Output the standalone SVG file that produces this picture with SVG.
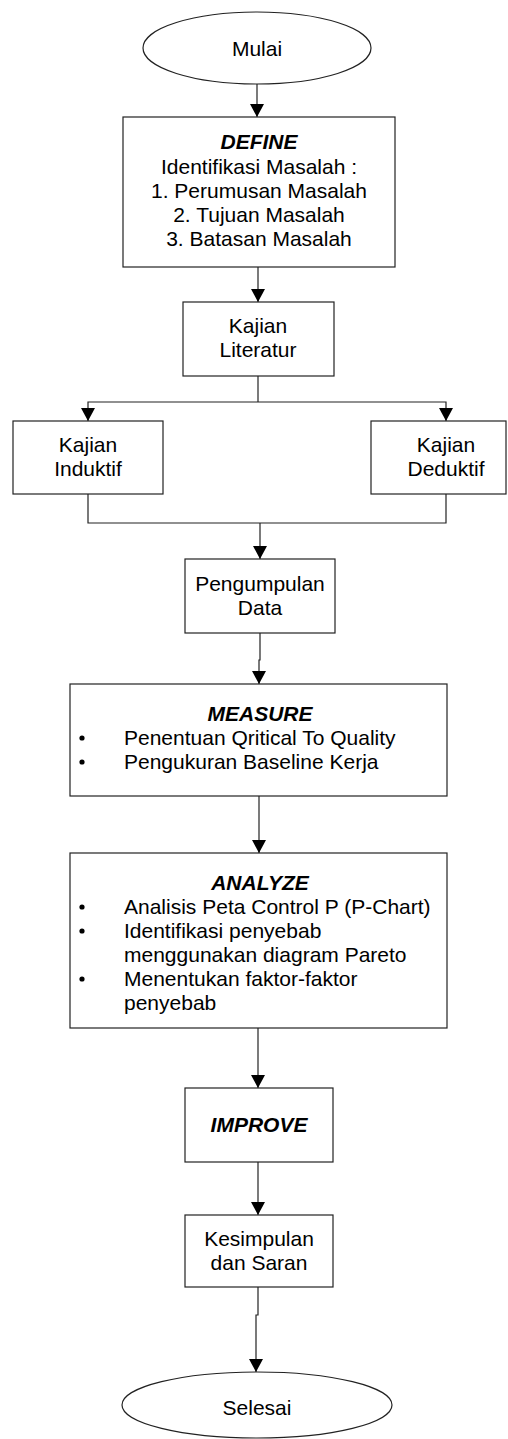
<svg xmlns="http://www.w3.org/2000/svg" width="508" height="1439" viewBox="0 0 508 1439">
  <defs>
    <marker id="arrow" markerWidth="14" markerHeight="14" refX="13" refY="7" orient="auto" markerUnits="userSpaceOnUse">
      <path d="M0,0 L13,7 L0,14 Z" fill="#000"/>
    </marker>
    <style>
      .box { fill: #fff; stroke: #222; stroke-width: 1.2; }
      .conn { fill: none; stroke: #222; stroke-width: 1.2; }
      .t { font-family: "Liberation Sans", Arial, sans-serif; font-size: 21px; fill: #000; }
      .c { text-anchor: middle; }
      .h { font-weight: bold; font-style: italic; }
      .dot { fill: #000; }
    </style>
  </defs>
  <rect width="508" height="1439" fill="#fff"/>

  <!-- connectors -->
  <g id="connectors">
    <path class="conn" d="M257,84 V117" marker-end="url(#arrow)"/>
    <path class="conn" d="M258,267 V302" marker-end="url(#arrow)"/>
    <path class="conn" d="M258,376 V402"/>
    <path class="conn" d="M258,402 H88 V421" marker-end="url(#arrow)"/>
    <path class="conn" d="M258,402 H446 V421" marker-end="url(#arrow)"/>
    <path class="conn" d="M88,494 V523 H446 V494"/>
    <path class="conn" d="M260,523 V559" marker-end="url(#arrow)"/>
    <path class="conn" d="M260,633 V660 H259 V684" marker-end="url(#arrow)"/>
    <path class="conn" d="M259,796 V853" marker-end="url(#arrow)"/>
    <path class="conn" d="M258,1028 V1088" marker-end="url(#arrow)"/>
    <path class="conn" d="M258,1162 V1215" marker-end="url(#arrow)"/>
    <path class="conn" d="M258,1287 V1315 H256 V1372" marker-end="url(#arrow)"/>
  </g>

  <g id="mulai">
    <ellipse class="box" cx="257" cy="48" rx="114" ry="36"/>
    <text class="t c" x="257" y="56">Mulai</text>
  </g>

  <g id="define">
    <rect class="box" x="123" y="117" width="272" height="150"/>
    <text class="t c h" x="259" y="149">DEFINE</text>
    <text class="t c" x="259" y="174">Identifikasi Masalah :</text>
    <text class="t c" x="259" y="198">1. Perumusan Masalah</text>
    <text class="t c" x="259" y="222">2. Tujuan Masalah</text>
    <text class="t c" x="259" y="246">3. Batasan Masalah</text>
  </g>

  <g id="kajian-literatur">
    <rect class="box" x="183" y="302" width="151" height="74"/>
    <text class="t c" x="258" y="333">Kajian</text>
    <text class="t c" x="258" y="357">Literatur</text>
  </g>

  <g id="kajian-induktif">
    <rect class="box" x="13" y="421" width="150" height="73"/>
    <text class="t c" x="88" y="452">Kajian</text>
    <text class="t c" x="88" y="476">Induktif</text>
  </g>

  <g id="kajian-deduktif">
    <rect class="box" x="371" y="421" width="135" height="73"/>
    <text class="t c" x="446" y="452">Kajian</text>
    <text class="t c" x="446" y="476">Deduktif</text>
  </g>

  <g id="pengumpulan-data">
    <rect class="box" x="185" y="559" width="150" height="74"/>
    <text class="t c" x="260" y="591">Pengumpulan</text>
    <text class="t c" x="260" y="615">Data</text>
  </g>

  <g id="measure">
    <rect class="box" x="70" y="684" width="377" height="112"/>
    <text class="t c h" x="260" y="721">MEASURE</text>
    <circle class="dot" cx="82" cy="738" r="2.6"/>
    <text class="t" x="124" y="745">Penentuan Qritical To Quality</text>
    <circle class="dot" cx="82" cy="762" r="2.6"/>
    <text class="t" x="124" y="769">Pengukuran Baseline Kerja</text>
  </g>

  <g id="analyze">
    <rect class="box" x="70" y="853" width="377" height="175"/>
    <text class="t c h" x="260" y="890">ANALYZE</text>
    <circle class="dot" cx="82" cy="907" r="2.6"/>
    <text class="t" x="124" y="914">Analisis Peta Control P (P-Chart)</text>
    <circle class="dot" cx="82" cy="931" r="2.6"/>
    <text class="t" x="124" y="938">Identifikasi penyebab</text>
    <text class="t" x="124" y="962">menggunakan diagram Pareto</text>
    <circle class="dot" cx="82" cy="979" r="2.6"/>
    <text class="t" x="124" y="986">Menentukan faktor-faktor</text>
    <text class="t" x="124" y="1010">penyebab</text>
  </g>

  <g id="improve">
    <rect class="box" x="185" y="1088" width="148" height="74"/>
    <text class="t c h" x="259" y="1132">IMPROVE</text>
  </g>

  <g id="kesimpulan">
    <rect class="box" x="185" y="1215" width="148" height="72"/>
    <text class="t c" x="259" y="1246">Kesimpulan</text>
    <text class="t c" x="259" y="1270">dan Saran</text>
  </g>

  <g id="selesai">
    <ellipse class="box" cx="257" cy="1405" rx="135" ry="33"/>
    <text class="t c" x="257" y="1415">Selesai</text>
  </g>
</svg>
